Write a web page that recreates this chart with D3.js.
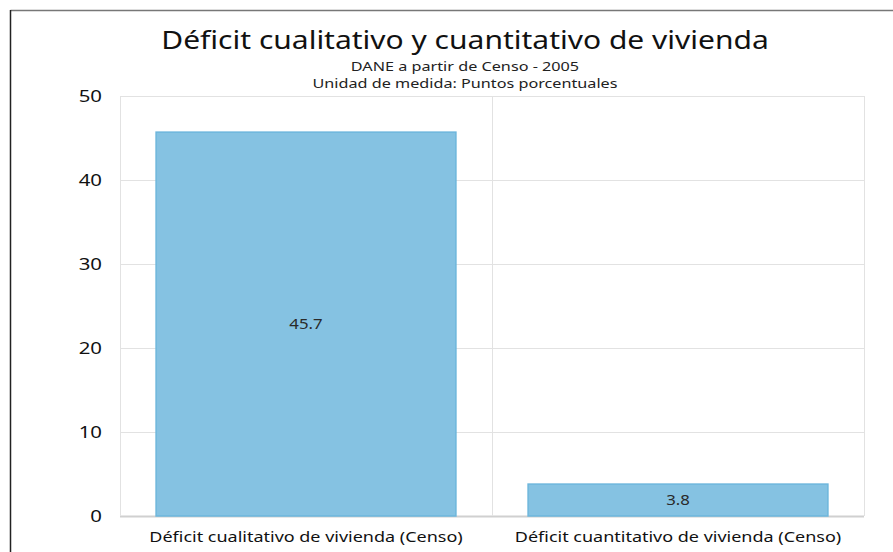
<!DOCTYPE html>
<html>
<head>
<meta charset="utf-8">
<script src="https://cdn.jsdelivr.net/npm/d3@7"></script>
<style>
  html, body { margin: 0; padding: 0; background: #fff; }
  svg { display: block; font-family: "Noto Sans", "Open Sans", sans-serif; }
</style>
</head>
<body>
<svg id="chart" width="893" height="552"></svg>
<script>
// Chart data
const categories = [
  "Déficit cualitativo de vivienda (Censo)",
  "Déficit cuantitativo de vivienda (Censo)"
];
const values = [45.7, 3.8];
const yTicks = [0, 10, 20, 30, 40, 50];
const titleText = "Déficit cualitativo y cuantitativo de vivienda";
const subtitleLines = ["DANE a partir de Censo - 2005", "Unidad de medida: Puntos porcentuales"];

const svg = d3.select("#chart");
const W = 893, H = 552;
const margin = { top: 96, right: 29, bottom: 36, left: 120 };
const plotW = W - margin.left - margin.right;
const plotH = H - margin.top - margin.bottom;
const SX = 1.2; // horizontal text stretch

// Places a text horizontally stretched around its anchor point
function stretchedText(parent, x, y, str, size, fill) {
  return parent.append("g").attr("transform", `translate(${x},${y}) scale(${SX},1)`)
    .append("text").attr("text-anchor", "middle")
    .attr("font-size", size).attr("fill", fill).text(str);
}

// Outer frame (top and left edges)
svg.append("line").attr("x1", 10.5).attr("x2", W).attr("y1", 10.5).attr("y2", 10.5)
  .attr("stroke", "#777").attr("stroke-width", 1.5);
svg.append("line").attr("x1", 10.5).attr("x2", 10.5).attr("y1", 10).attr("y2", H)
  .attr("stroke", "#222").attr("stroke-width", 1.5);

// Titles
stretchedText(svg, 465, 49, titleText, 25, "#111");
subtitleLines.forEach((t, i) => stretchedText(svg, 465, 71 + i * 16.5, t, 13.5, "#222"));

const g = svg.append("g").attr("transform", `translate(${margin.left},${margin.top})`);

const x = d3.scaleBand().domain(categories).range([0, plotW]).paddingInner(0).paddingOuter(0);
const y = d3.scaleLinear().domain([0, 50]).range([plotH, 0]);

// Horizontal gridlines
g.append("g").selectAll("line").data(yTicks).join("line")
  .attr("x1", 0).attr("x2", plotW)
  .attr("y1", d => Math.round(y(d)) + 0.5).attr("y2", d => Math.round(y(d)) + 0.5)
  .attr("stroke", d => d === 0 ? "#d0d0d0" : "#e2e2e2").attr("stroke-width", d => d === 0 ? 2 : 1);

// Vertical band separators
const seps = [0, ...categories.map(c => x(c) + x.bandwidth())];
g.append("g").selectAll("line").data(seps).join("line")
  .attr("x1", d => Math.round(d) + 0.5).attr("x2", d => Math.round(d) + 0.5)
  .attr("y1", 0).attr("y2", plotH)
  .attr("stroke", "#e2e2e2").attr("stroke-width", 1);

// Y axis labels
const yAxis = d3.axisLeft(y).tickValues(yTicks).tickSize(0).tickPadding(15).tickFormat(d3.format("d"));
const ya = g.append("g").call(yAxis);
ya.select(".domain").remove();
ya.selectAll("text").attr("font-size", 17).attr("fill", "#111")
  .attr("font-family", "'Noto Sans', 'Open Sans', sans-serif")
  .attr("transform", `scale(${SX},1)`);

// Bars
const inset = x.bandwidth() * 0.097;
g.append("g").selectAll("rect").data(values).join("rect")
  .attr("x", (d, i) => x(categories[i]) + inset)
  .attr("width", x.bandwidth() - 2 * inset)
  .attr("y", d => y(d))
  .attr("height", d => y(0) - y(d))
  .attr("fill", "#85c2e2")
  .attr("stroke", "#6db6dc")
  .attr("stroke-width", 1.5);

// Value labels centered in bars
values.forEach((d, i) => {
  stretchedText(g, x(categories[i]) + x.bandwidth() / 2, (y(d) + y(0)) / 2 + 5,
    d3.format(".1f")(d), 14, "#2a2a2a");
});

// Category labels
const xAxis = d3.axisBottom(x).tickSize(0).tickPadding(15);
const xa = g.append("g").attr("transform", `translate(0,${plotH})`).call(xAxis);
xa.select(".domain").remove();
xa.selectAll("text").attr("font-size", 15).attr("fill", "#111")
  .attr("font-family", "'Noto Sans', 'Open Sans', sans-serif")
  .attr("transform", `scale(${SX},1)`);
</script>
</body>
</html>
